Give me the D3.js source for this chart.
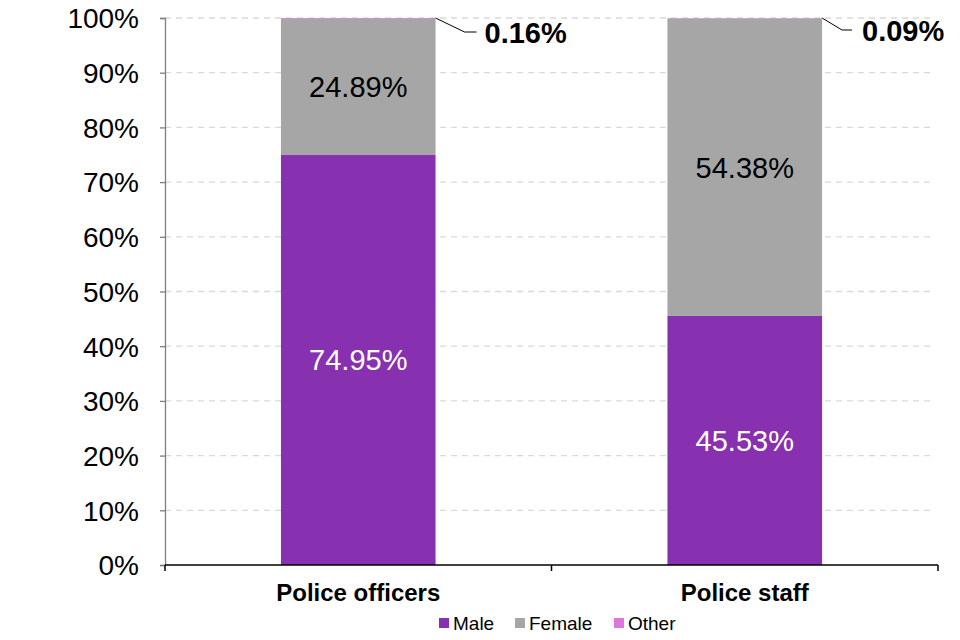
<!DOCTYPE html>
<html>
<head>
<meta charset="utf-8">
<script src="https://cdn.jsdelivr.net/npm/d3@7"></script>
<style>
    body { margin: 0; background: #fff; }
    text { font-family: Arial, "Liberation Sans", sans-serif; }
</style>
</head>
<body>
<div id="chart"></div>
<script>
// Data
var categories = ['Police officers', 'Police staff'];
var seriesKeys = ['Male', 'Female', 'Other'];
var male = [74.95, 45.53];
var female = [24.89, 54.38];
var other = [0.16, 0.09];
var yTicks = [0, 10, 20, 30, 40, 50, 60, 70, 80, 90, 100];
var colors = ['#8731b0', '#a6a6a6', '#dd77dd'];

var width = 960,
    height = 640,
    margin = { left: 165, right: 22, top: 18, bottom: 75 };

var chartWidth = width - margin.left - margin.right;
var chartHeight = height - margin.top - margin.bottom;

// leader line offsets for the "Other" callouts (dx1, dy, dx2, text dx)
var calloutOffsets = [[29, 14, 41, 49], [20, 12, 30, 40]];

var rows = categories.map(function (c, i) {
    return { key: c, Male: male[i], Female: female[i], Other: other[i] };
});

var stacked = d3.stack().keys(seriesKeys)(rows);

var xScale = d3.scaleBand().domain(categories).range([0, chartWidth]).paddingInner(0.6).paddingOuter(0.3);
var yScale = d3.scaleLinear().domain([0, 100]).range([chartHeight, 0]);
var zScale = d3.scaleOrdinal().domain(seriesKeys).range(colors);

var svg = d3.select('#chart').append('svg')
    .attr('width', width)
    .attr('height', height);

var g = svg.append('g')
    .attr('transform', 'translate(' + margin.left + ',' + margin.top + ')');

// gridlines
g.append('g').selectAll('line').data(yTicks.slice(1)).enter().append('line')
    .attr('x1', 0)
    .attr('x2', chartWidth - 3)
    .attr('y1', function (d) { return yScale(d); })
    .attr('y2', function (d) { return yScale(d); })
    .attr('stroke', '#d9d9d9')
    .attr('stroke-width', 1.3)
    .attr('stroke-dasharray', '6,5');

// bars
var layers = g.append('g').selectAll('g').data(stacked).enter().append('g')
    .attr('fill', function (d) { return zScale(d.key); });

layers.selectAll('rect').data(function (d) { return d; }).enter().append('rect')
    .attr('x', function (d) { return xScale(d.data.key); })
    .attr('width', xScale.bandwidth())
    .attr('y', function (d) { return yScale(d[1]); })
    .attr('height', function (d) { return yScale(d[0]) - yScale(d[1]); });

// y axis
var yAxis = d3.axisLeft(yScale).tickValues(yTicks).tickSize(5).tickPadding(21)
    .tickFormat(function (d) { return d + '%'; });
var yG = g.append('g').attr('class', 'axis y').call(yAxis);
yG.select('.domain').attr('stroke', '#7f7f7f').attr('stroke-width', 1.3);
yG.selectAll('.tick line').attr('stroke', '#7f7f7f').attr('stroke-width', 1.3);
yG.selectAll('.tick text')
    .attr('font-size', 28)
    .attr('fill', '#000')
    .attr('dy', '0.35em')
    .attr('font-family', 'Arial, "Liberation Sans", sans-serif');

// x axis
var xG = g.append('g').attr('class', 'axis x')
    .attr('transform', 'translate(0,' + chartHeight + ')');
xG.append('line')
    .attr('x1', 0).attr('x2', chartWidth)
    .attr('stroke', '#000').attr('stroke-width', 1.5);
xG.selectAll('.sep').data([0, 1, 2]).enter().append('line')
    .attr('x1', function (d) { return d * chartWidth / 2; })
    .attr('x2', function (d) { return d * chartWidth / 2; })
    .attr('y1', 0).attr('y2', 6)
    .attr('stroke', '#000').attr('stroke-width', 1.5);
xG.selectAll('.cat').data(categories).enter().append('text')
    .attr('x', function (d) { return xScale(d) + xScale.bandwidth() / 2; })
    .attr('y', 36)
    .attr('text-anchor', 'middle')
    .attr('font-size', 24)
    .attr('font-weight', 'bold')
    .text(function (d) { return d; });

// inner labels for male and female
var fmt = function (v) { return v.toFixed(2) + '%'; };
stacked.slice(0, 2).forEach(function (layer, li) {
    g.append('g').selectAll('text').data(layer).enter().append('text')
        .attr('x', function (d) { return xScale(d.data.key) + xScale.bandwidth() / 2; })
        .attr('y', function (d) { return (yScale(d[0]) + yScale(d[1])) / 2; })
        .attr('dy', '0.36em')
        .attr('text-anchor', 'middle')
        .attr('font-size', 29)
        .attr('fill', li === 0 ? '#fff' : '#000')
        .text(function (d) { return fmt(d.data[layer.key]); });
});

// callouts for "Other"
var otherLayer = stacked[2];
var callouts = g.append('g').selectAll('g').data(otherLayer).enter().append('g');
callouts.append('polyline')
    .attr('points', function (d, i) {
        var o = calloutOffsets[i],
            x0 = xScale(d.data.key) + xScale.bandwidth(),
            y0 = yScale(d[1]);
        return [[x0, y0], [x0 + o[0], y0 + o[1]], [x0 + o[2], y0 + o[1]]].map(function (p) { return p.join(','); }).join(' ');
    })
    .attr('fill', 'none')
    .attr('stroke', '#000')
    .attr('stroke-width', 1);
callouts.append('text')
    .attr('x', function (d, i) { return xScale(d.data.key) + xScale.bandwidth() + calloutOffsets[i][3]; })
    .attr('y', function (d, i) { return yScale(d[1]) + calloutOffsets[i][1] + 1; })
    .attr('dy', '0.36em')
    .attr('font-size', 29)
    .attr('font-weight', 'bold')
    .text(function (d) { return fmt(d.data.Other); });

// legend
var legendX = [439, 515, 614];
var legend = svg.append('g').selectAll('g').data(seriesKeys).enter().append('g')
    .attr('transform', function (d, i) { return 'translate(' + legendX[i] + ',618)'; });
legend.append('rect')
    .attr('width', 10).attr('height', 10)
    .attr('fill', function (d) { return zScale(d); });
legend.append('text')
    .attr('x', 14).attr('y', 5)
    .attr('dy', '0.36em')
    .attr('font-size', 19)
    .text(function (d) { return d; });
</script>
</body>
</html>
